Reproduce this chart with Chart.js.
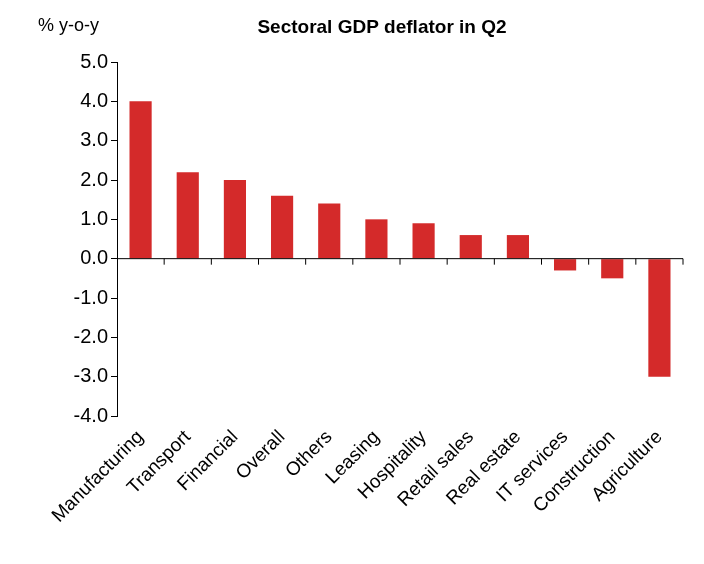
<!DOCTYPE html>
<html><head><script src="https://cdn.jsdelivr.net/npm/chart.js@4"></script>
<style>body{margin:0;background:#fff}#w{width:704px;height:564px}</style></head>
<body><div id="w"><canvas id="c"></canvas></div>
<script>
const categories=["Manufacturing","Transport","Financial","Overall","Others","Leasing","Hospitality","Retail sales","Real estate","IT services","Construction","Agriculture"];
const values=[4.0,2.2,2.0,1.6,1.4,1.0,0.9,0.6,0.6,-0.3,-0.5,-3.0];
const FONT="'Liberation Sans', Arial, sans-serif";
const deco={id:'deco',afterDraw(ch){
 const c=ch.ctx,x=ch.scales.x,y=ch.scales.y,z=y.getPixelForValue(0);
 c.save();c.strokeStyle='#000';c.lineWidth=1;
 c.beginPath();c.moveTo(ch.chartArea.left,z);c.lineTo(ch.chartArea.right,z);
 const n=categories.length,w=(ch.chartArea.right-ch.chartArea.left)/n;
 for(let i=1;i<=n;i++){const px=ch.chartArea.left+i*w;c.moveTo(px,z);c.lineTo(px,z+6);}
 c.stroke();
 c.fillStyle='#000';c.font='bold 19px '+FONT;c.textAlign='center';c.textBaseline='middle';
 c.fillText('Sectoral GDP deflator in Q2',382,28);
 c.font='18px '+FONT;c.textAlign='left';c.fillText('% y-o-y',38,26);
 c.restore();}};
new Chart(document.getElementById('c'),{type:'bar',
data:{labels:categories,datasets:[{data:values,backgroundColor:'#d42a2a',barPercentage:0.47,categoryPercentage:1}]},
options:{responsive:true,maintainAspectRatio:false,animation:false,
layout:{padding:{top:62,right:21,left:0,bottom:0}},
plugins:{legend:{display:false},tooltip:{enabled:false}},
scales:{
 x:{grid:{display:false},border:{display:false},ticks:{color:'#000',font:{family:FONT,size:19},minRotation:45,maxRotation:45,padding:2},afterFit(s){s.height=148;}},
 y:{min:-4,max:5,border:{color:'#000'},
   ticks:{stepSize:1,color:'#000',font:{family:FONT,size:20},callback:v=>v.toFixed(1)},
   grid:{drawOnChartArea:false,tickLength:6,color:'#000'},afterFit(s){s.width=117;}}
}},plugins:[deco]});
</script></body></html>
